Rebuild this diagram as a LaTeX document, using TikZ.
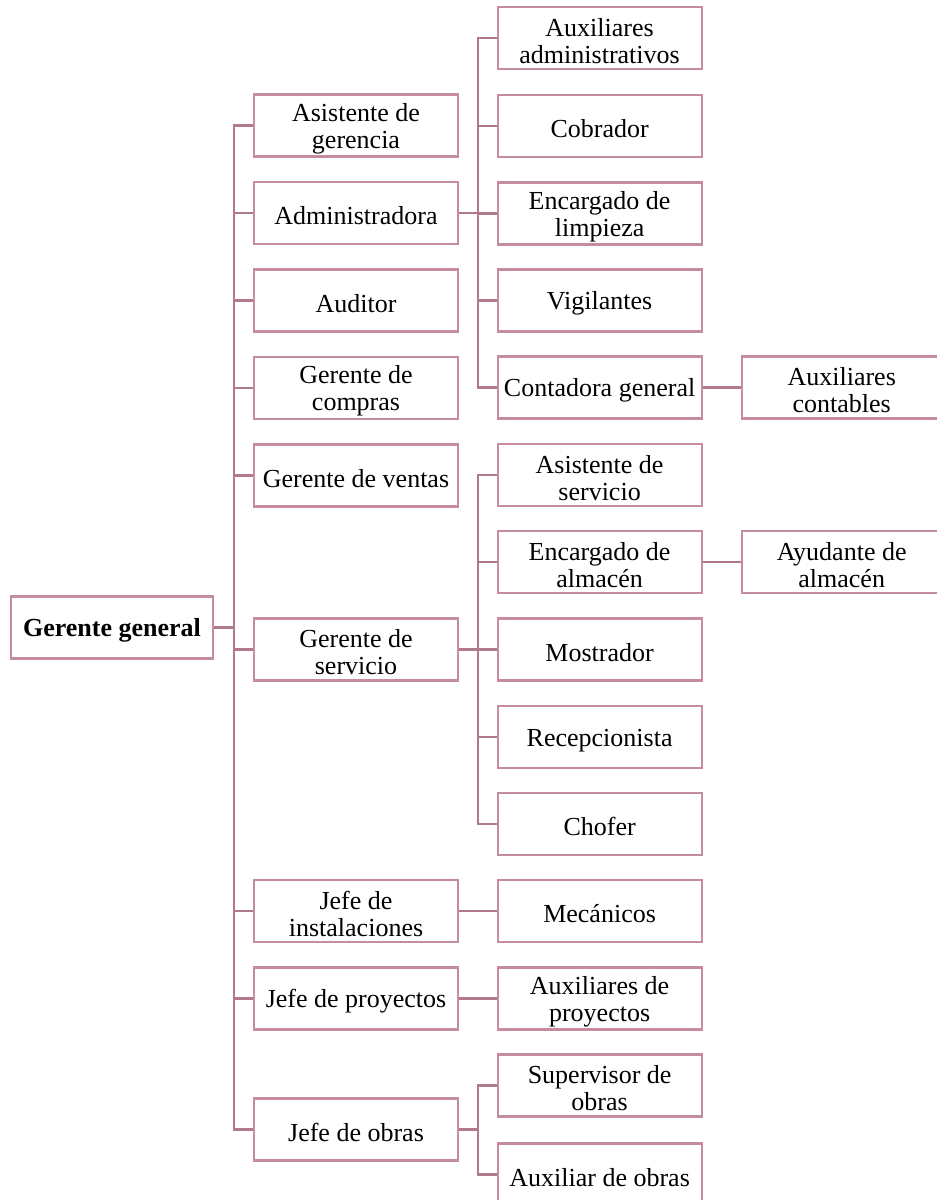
\documentclass[tikz,border=0pt]{standalone}
\usepackage{fontspec}
\setmainfont{Liberation Serif}
\definecolor{boxc}{RGB}{196,140,158}
\definecolor{linec}{RGB}{176,122,140}
\begin{document}
\begin{tikzpicture}[x=0.5pt,y=-0.5pt,
  box/.style={draw=boxc,line width=1.1pt,minimum width=102pt,minimum height=31pt,inner sep=0pt,align=center,font=\fontsize{13}{13.4}\selectfont,text height=12pt},
  two/.style={box,text height=25.4pt},
  conn/.style={draw=linec,line width=1.1pt}]
\useasboundingbox (0,0) rectangle (937,1200);
% level 1
\node[box,minimum width=101pt,font=\bfseries\fontsize{13}{13.4}\selectfont] (gg) at (112,627.5) {Gerente general};
% level 2
\node[two] (asg) at (356,125.5) {Asistente de\\gerencia};
\node[box] (adm) at (356,213) {Administradora};
\node[box] (aud) at (356,300.5) {Auditor};
\node[two] (gco) at (356,388) {Gerente de\\compras};
\node[box] (gve) at (356,475.5) {Gerente de ventas};
\node[two] (gse) at (356,649.5) {Gerente de\\servicio};
\node[two] (jin) at (356,911) {Jefe de\\instalaciones};
\node[box] (jpr) at (356,998.5) {Jefe de proyectos};
\node[box] (job) at (356,1129.5) {Jefe de obras};
% level 3
\node[two] (aad) at (599.6,38.3) {Auxiliares\\administrativos};
\node[box] (cob) at (599.6,126) {Cobrador};
\node[two] (eli) at (599.6,213.5) {Encargado de\\limpieza};
\node[box] (vig) at (599.6,300.5) {Vigilantes};
\node[box] (cge) at (599.6,387.5) {Contadora general};
\node[two] (ase) at (599.6,475) {Asistente de\\servicio};
\node[two] (eal) at (599.6,562) {Encargado de\\almacén};
\node[box] (mos) at (599.6,649.5) {Mostrador};
\node[box] (rec) at (599.6,737) {Recepcionista};
\node[box] (cho) at (599.6,824) {Chofer};
\node[box] (mec) at (599.6,911) {Mecánicos};
\node[two] (apr) at (599.6,998.5) {Auxiliares de\\proyectos};
\node[two] (sob) at (599.6,1085.5) {Supervisor de\\obras};
\node[box] (aob) at (599.6,1174.5) {Auxiliar de obras};
% level 4
\node[two,minimum width=100pt] (aco) at (841.7,387.5) {Auxiliares\\contables};
\node[two,minimum width=100pt] (aya) at (841.7,562) {Ayudante de\\almacén};
% trunk coordinates
\coordinate (t1) at (234.3,0);
\coordinate (t2) at (477.7,0);
% connectors level 1 -> 2
\foreach \c in {asg,adm,aud,gco,gve,gse,jin,jpr,job}
  \draw[conn] (gg.east) -- (gg.east -| t1) |- (\c.west);
% Administradora
\foreach \c in {aad,cob,eli,vig,cge}
  \draw[conn] (adm.east) -- (adm.east -| t2) |- (\c.west);
% Gerente de servicio
\foreach \c in {ase,eal,mos,rec,cho}
  \draw[conn] (gse.east) -- (gse.east -| t2) |- (\c.west);
% Jefe de obras
\foreach \c in {sob,aob}
  \draw[conn] (job.east) -- (job.east -| t2) |- (\c.west);
% direct links
\draw[conn] (jin.east) -- (mec.west);
\draw[conn] (jpr.east) -- (apr.west);
\draw[conn] (cge.east) -- (aco.west);
\draw[conn] (eal.east) -- (aya.west);
\end{tikzpicture}
\end{document}
